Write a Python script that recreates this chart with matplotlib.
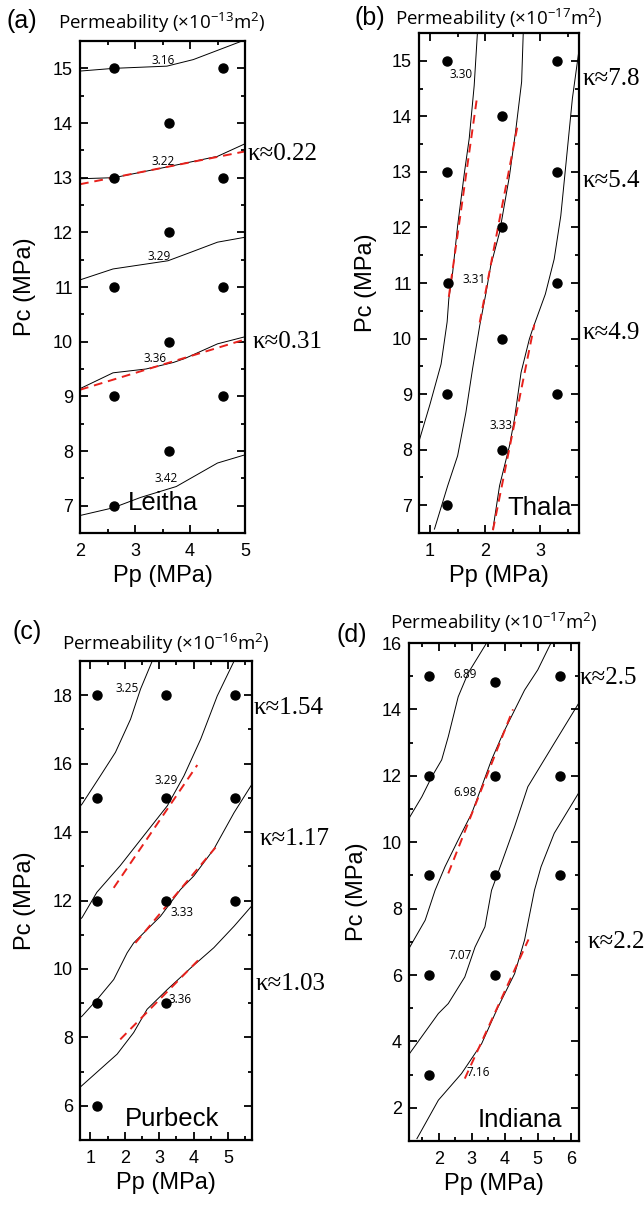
import matplotlib
matplotlib.use("Agg")
import matplotlib.pyplot as plt
from matplotlib.ticker import MultipleLocator

plt.rcParams['font.family'] = ['Liberation Sans', 'DejaVu Sans']
plt.rcParams['mathtext.fontset'] = 'custom'

W, H = 644, 1205

# ---------------- Panel (a) Leitha ----------------
a_pts_x = [2.62, 4.60, 3.62, 2.62, 4.60, 3.62, 2.62, 4.60, 3.62, 2.62, 4.60, 3.62, 2.62]
a_pts_y = [15, 15, 14, 13, 13, 12, 11, 11, 10, 9, 9, 8, 7]
a_c316_x = [2.0, 2.62, 3.58, 4.06, 5.0]
a_c316_y = [14.95, 15.0, 15.04, 15.16, 15.52]
a_c322_x = [2.0, 2.62, 3.6, 4.5, 5.0]
a_c322_y = [12.98, 13.0, 13.2, 13.39, 13.62]
a_c329_x = [2.0, 2.6, 3.6, 4.0, 4.5, 5.0]
a_c329_y = [11.13, 11.33, 11.48, 11.63, 11.82, 11.91]
a_c336_x = [2.0, 2.6, 3.2, 3.7, 3.9, 4.5, 5.0]
a_c336_y = [9.14, 9.43, 9.5, 9.62, 9.69, 9.96, 10.09]
a_c342_x = [2.0, 2.6, 3.1, 3.75, 4.5, 5.0]
a_c342_y = [6.82, 6.96, 7.15, 7.35, 7.78, 7.93]
a_fit1_x = [2.0, 5.0]
a_fit1_y = [12.88, 13.48]
a_fit2_x = [2.0, 5.0]
a_fit2_y = [9.12, 10.04]
a_lab = ['3.16', '3.22', '3.29', '3.36', '3.42']
a_lab_x = [3.51, 3.51, 3.44, 3.36, 3.56]
a_lab_y = [15.15, 13.29, 11.55, 9.70, 7.49]
a_kappa = ['κ≈0.22', 'κ≈0.31']
a_kappa_x = [5.04, 5.13]
a_kappa_y = [13.43, 10.0]

# ---------------- Panel (b) Thala ----------------
b_pts_x = [1.30, 3.31, 2.30, 1.30, 3.31, 2.30, 1.32, 3.31, 2.30, 1.30, 3.31, 2.30, 1.30]
b_pts_y = [15, 15, 14, 13, 13, 12, 11, 11, 10, 9, 9, 8, 7]
b_c330_x = [1.86, 1.80, 1.71, 1.625, 1.50, 1.41, 1.34, 1.31, 1.20, 1.0, 0.80]
b_c330_y = [15.52, 14.55, 13.6, 13.0, 12.03, 11.19, 10.71, 10.3, 9.54, 8.82, 8.15]
b_c331_x = [2.69, 2.66, 2.55, 2.44, 2.26, 2.10, 2.01, 1.90, 1.77, 1.65, 1.50, 1.32, 1.08]
b_c331_y = [15.52, 14.62, 13.72, 12.93, 11.91, 11.31, 10.80, 10.23, 9.45, 8.67, 7.89, 7.35, 6.57]
b_c333_x = [3.72, 3.58, 3.46, 3.37, 3.25, 3.09, 2.86, 2.80, 2.65, 2.53, 2.44, 2.26, 2.14]
b_c333_y = [15.34, 14.32, 13.11, 12.21, 11.43, 10.80, 10.17, 9.99, 9.39, 8.55, 8.07, 7.35, 6.57]
b_fit1_x = [1.34, 1.85]
b_fit1_y = [10.75, 14.33]
b_fit2_x = [1.90, 2.60]
b_fit2_y = [10.29, 13.90]
b_fit3_x = [2.14, 2.89]
b_fit3_y = [6.55, 10.25]
b_lab = ['3.30', '3.31', '3.33']
b_lab_x = [1.56, 1.80, 2.28]
b_lab_y = [14.75, 11.07, 8.44]
b_kappa = ['κ≈7.8', 'κ≈5.4', 'κ≈4.9']
b_kappa_x = [3.76, 3.76, 3.77]
b_kappa_y = [14.68, 12.84, 10.1]

# ---------------- Panel (c) Purbeck ----------------
c_pts_x = [1.2, 3.2, 5.2, 1.2, 3.2, 5.2, 1.2, 3.2, 5.2, 1.2, 3.2, 1.2]
c_pts_y = [18, 18, 18, 15, 15, 15, 12, 12, 12, 9, 9, 6]
c_c325_x = [2.80, 2.46, 2.17, 1.73, 1.29, 0.76, 0.70]
c_c325_y = [19.0, 18.18, 17.3, 16.33, 15.64, 14.82, 14.75]
c_c329_x = [5.18, 4.69, 4.21, 3.72, 3.24, 2.55, 1.87, 1.19, 0.76, 0.70]
c_c329_y = [19.0, 17.98, 16.72, 15.64, 14.77, 13.89, 13.02, 12.24, 11.5, 11.45]
c_c333_x = [5.70, 5.18, 4.59, 4.01, 3.62, 3.04, 2.26, 2.07, 1.68, 1.20, 0.76, 0.70]
c_c333_y = [15.4, 14.57, 13.5, 12.72, 12.32, 11.54, 10.76, 10.47, 9.69, 9.11, 8.62, 8.58]
c_c336_x = [5.70, 5.18, 4.59, 3.92, 3.24, 2.65, 2.26, 1.78, 0.70]
c_c336_y = [11.85, 11.25, 10.62, 10.03, 9.40, 8.82, 8.14, 7.51, 6.54]
c_fit1_x = [1.68, 4.11]
c_fit1_y = [12.37, 15.96]
c_fit2_x = [2.31, 4.64]
c_fit2_y = [10.76, 13.55]
c_fit3_x = [1.87, 4.21]
c_fit3_y = [7.94, 10.33]
c_lab = ['3.25', '3.29', '3.33', '3.36']
c_lab_x = [2.07, 3.19, 3.67, 3.62]
c_lab_y = [18.2, 15.5, 11.64, 9.11]
c_kappa = ['κ≈1.54', 'κ≈1.17', 'κ≈1.03']
c_kappa_x = [5.76, 5.91, 5.81]
c_kappa_y = [17.64, 13.81, 9.55]

# ---------------- Panel (d) Indiana ----------------
d_pts_x = [1.71, 3.70, 5.68, 1.71, 3.70, 5.68, 1.71, 3.70, 5.68, 1.71, 3.70, 1.71]
d_pts_y = [15, 14.83, 15, 12, 12, 12, 9, 9, 9, 6, 6, 3]
d_c689_x = [3.45, 2.89, 2.59, 2.49, 2.29, 2.09, 1.79, 1.49, 1.10]
d_c689_y = [16.0, 15.09, 14.38, 13.98, 13.18, 12.48, 11.97, 11.37, 10.72]
d_c698_x = [5.40, 5.0, 4.60, 4.30, 3.95, 3.60, 3.30, 3.0, 2.59, 2.19, 1.89, 1.59, 1.10]
d_c698_y = [16.0, 15.19, 14.58, 13.98, 13.28, 12.48, 11.67, 10.87, 10.07, 9.26, 8.55, 7.65, 6.80]
d_c707_x = [6.25, 5.50, 4.70, 4.30, 3.90, 3.60, 3.40, 3.10, 2.79, 2.29, 1.99, 1.10]
d_c707_y = [14.2, 12.98, 11.67, 10.47, 9.36, 8.55, 7.45, 6.84, 5.94, 5.14, 4.84, 3.61]
d_c716_x = [6.25, 5.50, 5.10, 4.90, 4.60, 4.30, 3.80, 3.30, 2.69, 1.99, 1.34]
d_c716_y = [11.5, 10.27, 9.26, 8.55, 7.05, 6.04, 5.04, 3.93, 3.03, 2.23, 1.07]
d_fit1_x = [2.29, 4.25]
d_fit1_y = [9.06, 14.0]
d_fit2_x = [2.79, 4.72]
d_fit2_y = [2.88, 7.07]
d_lab = ['6.89', '6.98', '7.07', '7.16']
d_lab_x = [2.79, 2.81, 2.64, 3.20]
d_lab_y = [15.04, 11.49, 6.59, 3.05]
d_kappa = ['κ≈2.5', 'κ≈2.2']
d_kappa_x = [6.26, 6.51]
d_kappa_y = [14.94, 6.99]

fig = plt.figure(figsize=(W / 100, H / 100), dpi=100)


def px_rect(x0, y0, x1, y1):
    return [x0 / W, 1 - y1 / H, (x1 - x0) / W, (y1 - y0) / H]


def style(ax, xlim, ylim, xmaj, xmin, ymaj, ymin, ylpad):
    ax.set_xlim(*xlim)
    ax.set_ylim(*ylim)
    ax.xaxis.set_major_locator(MultipleLocator(xmaj))
    ax.xaxis.set_minor_locator(MultipleLocator(xmin))
    ax.yaxis.set_major_locator(MultipleLocator(ymaj))
    ax.yaxis.set_minor_locator(MultipleLocator(ymin))
    ax.tick_params(which='both', direction='in', top=True, right=True, width=1.3)
    ax.tick_params(which='major', length=5.5, labelsize=13, pad=5)
    ax.tick_params(axis='x', which='major', pad=7)
    ax.tick_params(which='minor', length=3)
    for s in ax.spines.values():
        s.set_linewidth(1.6)
    ax.set_xlabel('Pp (MPa)', fontsize=17, labelpad=4)
    ax.set_ylabel('Pc (MPa)', fontsize=17, labelpad=ylpad)


def draw(ax, pts_x, pts_y, curves, fits, labs, lx, ly, kap, kx, ky, name, nx, ny):
    for cx, cy in curves:
        ax.plot(cx, cy, color='black', lw=0.7)
    for fx, fy in fits:
        ax.plot(fx, fy, color='#e8211c', lw=1.4, dashes=(4.5, 3.0))
    ax.plot(pts_x, pts_y, 'o', color='black', ms=6.5, zorder=5)
    for t, x, y in zip(labs, lx, ly):
        ax.text(x, y, t, fontsize=8.5, ha='center', va='center', family=['Open Sans', 'DejaVu Sans'])
    for t, x, y in zip(kap, kx, ky):
        ax.text(x, y, t, fontsize=18, ha='left', va='center', clip_on=False,
                family=['Liberation Serif', 'DejaVu Serif'])
    ax.text(nx, ny, name, fontsize=18.5, ha='center', va='center')


def head(letter, lx, lb, title, tx, tb):
    fig.text(lx / W, 1 - lb / H, letter, fontsize=18, ha='left', va='baseline')
    fig.text(tx / W, 1 - tb / H, title, fontsize=13.5, ha='left', va='baseline',
             family=['Open Sans', 'DejaVu Sans'])


# (a)
ax = fig.add_axes(px_rect(80, 41, 245, 533))
style(ax, (2, 5), (6.5, 15.5), 1, 0.5, 1, 0.5, 12)
draw(ax, a_pts_x, a_pts_y,
     [(a_c316_x, a_c316_y), (a_c322_x, a_c322_y), (a_c329_x, a_c329_y), (a_c336_x, a_c336_y), (a_c342_x, a_c342_y)],
     [(a_fit1_x, a_fit1_y), (a_fit2_x, a_fit2_y)],
     a_lab, a_lab_x, a_lab_y, a_kappa, a_kappa_x, a_kappa_y, 'Leitha', 3.5, 7.05)
head('(a)', 7, 28, r'Permeability (×10$^{\mathregular{-13}}$m$^{\mathregular{2}}$)', 58, 29)

# (b)
ax = fig.add_axes(px_rect(419, 33, 579, 533))
style(ax, (0.8, 3.7), (6.5, 15.5), 1, 0.5, 1, 0.5, 11)
draw(ax, b_pts_x, b_pts_y,
     [(b_c330_x, b_c330_y), (b_c331_x, b_c331_y), (b_c333_x, b_c333_y)],
     [(b_fit1_x, b_fit1_y), (b_fit2_x, b_fit2_y), (b_fit3_x, b_fit3_y)],
     b_lab, b_lab_x, b_lab_y, b_kappa, b_kappa_x, b_kappa_y, 'Thala', 2.98, 6.95)
head('(b)', 354, 25, r'Permeability (×10$^{\mathregular{-17}}$m$^{\mathregular{2}}$)', 395, 25)

# (c)
ax = fig.add_axes(px_rect(80, 661, 252, 1140))
style(ax, (0.7, 5.7), (5, 19), 1, 0.5, 2, 1, 12)
draw(ax, c_pts_x, c_pts_y,
     [(c_c325_x, c_c325_y), (c_c329_x, c_c329_y), (c_c333_x, c_c333_y), (c_c336_x, c_c336_y)],
     [(c_fit1_x, c_fit1_y), (c_fit2_x, c_fit2_y), (c_fit3_x, c_fit3_y)],
     c_lab, c_lab_x, c_lab_y, c_kappa, c_kappa_x, c_kappa_y, 'Purbeck', 3.38, 5.62)
head('(c)', 12, 639, r'Permeability (×10$^{\mathregular{-16}}$m$^{\mathregular{2}}$)', 62, 650)

# (d)
ax = fig.add_axes(px_rect(409, 643, 579, 1141))
style(ax, (1.1, 6.25), (1, 16), 1, 0.5, 2, 1, 10)
draw(ax, d_pts_x, d_pts_y,
     [(d_c689_x, d_c689_y), (d_c698_x, d_c698_y), (d_c707_x, d_c707_y), (d_c716_x, d_c716_y)],
     [(d_fit1_x, d_fit1_y), (d_fit2_x, d_fit2_y)],
     d_lab, d_lab_x, d_lab_y, d_kappa, d_kappa_x, d_kappa_y, 'Indiana', 4.45, 1.63)
head('(d)', 337, 642, r'Permeability (×10$^{\mathregular{-17}}$m$^{\mathregular{2}}$)', 390, 629)

fig.savefig('out.png', dpi=100)
